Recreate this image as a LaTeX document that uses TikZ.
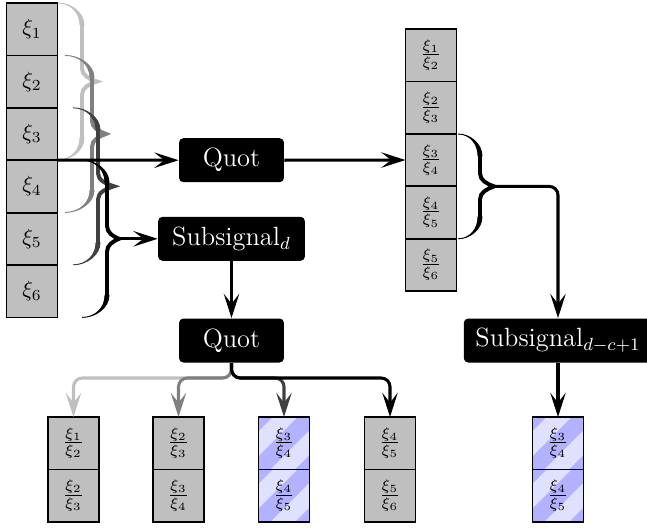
\documentclass[tikz,border=0pt]{standalone}
\usetikzlibrary{arrows.meta}

% curly brace opening to the right, with tapered ends:
% #1 colour, #2 x of the ends, #3 top y, #4 bottom y, #5 x of the stem, #6 x of the tip
\newcommand\tapbrace[6]{%
  \pgfmathsetmacro\tbm{(#3+#4)/2}%
  \pgfmathsetmacro\tba{#3+22}%
  \pgfmathsetmacro\tbd{#4-22}%
  \pgfmathsetmacro\tbb{\tbm-13}%
  \pgfmathsetmacro\tbc{\tbm+13}%
  \pgfmathsetmacro\tbu{\tbm-6}%
  \pgfmathsetmacro\tbl{\tbm+6}%
  \pgfmathsetmacro\tvl{#5-2}%
  \pgfmathsetmacro\tvr{#5+2}%
  \pgfmathsetmacro\tcx{#2+0.55*(#5-#2)}%
  \pgfmathsetmacro\tta{#3+10}%
  \pgfmathsetmacro\ttd{#4-10}%
  \pgfmathsetmacro\tpx{#6-5}%
  \pgfmathsetmacro\tmx{(#5+\tpx)/2}%
  \pgfmathsetmacro\tmu{\tbm-2.5}%
  \pgfmathsetmacro\tml{\tbm+2.5}%
  % tapered ends
  \filldraw[#1, line width=0.4pt]
    (#2,#3) .. controls (\tcx,#3) and (\tvr,\tta) .. (\tvr,\tba)
    -- (\tvl,\tba) .. controls (\tvl,\tta) and (\tcx,#3) .. (#2,#3) -- cycle;
  \filldraw[#1, line width=0.4pt]
    (#2,#4) .. controls (\tcx,#4) and (\tvr,\ttd) .. (\tvr,\tbd)
    -- (\tvl,\tbd) .. controls (\tvl,\ttd) and (\tcx,#4) .. (#2,#4) -- cycle;
  % stem and pointed middle
  \draw[#1, line width=1.8pt, miter limit=10]
    (#5,\tba) -- (#5,\tbb) .. controls (#5,\tbu) and (\tmx,\tmu) .. (\tpx,\tbm)
    .. controls (\tmx,\tml) and (#5,\tbl) .. (#5,\tbc) -- (#5,\tbd);
}

\tikzset{
  cell/.style={draw=black, line width=0.8pt, fill=black!25,
    minimum width=23.2pt, minimum height=23.8pt, inner sep=0pt, outer sep=0pt},
  hatched/.style={cell, fill=blue!12, path picture={
      \foreach \k in {-1,0,1}
        \draw[blue!30, line width=8pt]
          ([xshift=\k*22.7pt-16pt, yshift=-16pt]path picture bounding box.center)
          -- ++(32pt,32pt);}},
  op/.style={fill=black, text=white, rounded corners=2pt, minimum height=20pt,
    inner xsep=6.4pt, inner ysep=2pt, font=\large},
  arr/.style={line width=1.4pt, -{Stealth[length=11pt,width=7pt,inset=4.5pt]}},
  fork/.style={arr, rounded corners=4pt},
}

\begin{document}
\begin{tikzpicture}[x=0.4545pt, y=-0.4545pt]
\useasboundingbox (0,0) rectangle (647,527);

% signal samples
\foreach \i/\yy in {1/29.2, 2/81.6, 3/134, 4/186.4, 5/238.8, 6/291.2}
  \node[cell] (L\i) at (32,\yy) {$\xi_{\i}$};

% overlapping windows of three samples
\tapbrace{black!25}{58}{3}{160}{82}{102}
\tapbrace{black!50}{65}{55.4}{212.4}{92}{111}
\tapbrace{black!75}{73}{107.8}{264.8}{98}{119}
\tapbrace{black}{82}{160.2}{317.4}{107}{124}
\coordinate (btip) at (119,238.8);

% operators
\node[op, minimum width=47.7pt] (Q1) at (231.5,160.2) {Quot};
\node[op] (S1) at (231.5,238.8) {Subsignal$_d$};
\node[op, minimum width=47.7pt] (Q2) at (231.5,340.5) {Quot};
\node[op, inner xsep=5.3pt] (S2) at (558,340.5) {Subsignal$_{d-c+1}$};

% quotient signal
\foreach \i/\yy in {1/55.2, 2/107.6, 3/160, 4/212.4, 5/264.8} {
  \pgfmathtruncatemacro\j{\i+1}
  \node[cell] (R\i) at (431,\yy) {$\frac{\xi_{\i}}{\xi_{\j}}$};
}
\tapbrace{black}{458}{134}{238.8}{480}{499}
\coordinate (rtip) at (494,186.4);

% quotients of the subsignal
\foreach \b/\xx/\i/\sty in {1/73.5/1/cell, 2/178.5/2/cell, 3/284/3/hatched, 4/390/4/cell, 5/558/3/hatched} {
  \pgfmathtruncatemacro\j{\i+1}
  \pgfmathtruncatemacro\k{\i+2}
  \node[\sty] (B\b a) at (\xx,443.2) {$\frac{\xi_{\i}}{\xi_{\j}}$};
  \node[\sty] (B\b b) at (\xx,495.6) {$\frac{\xi_{\j}}{\xi_{\k}}$};
}

% connectors
\draw[arr] (L3.south east) -- (Q1.west);
\draw[arr] (Q1.east) -- (R3.west);
\draw[arr] (btip) -- (S1.west);
\draw[arr] (S1.south) -- (Q2.north);
\draw[fork] (rtip) -| (S2.north);
\draw[arr] (S2.south) -- (B5a.north);

\coordinate (split) at (231.5,378);
\draw[fork, black!25] (Q2.south) -- (split) -| (B1a.north);
\draw[fork, black!50] (Q2.south) -- (split) -| (B2a.north);
\draw[fork, black!75] (Q2.south) -- (split) -| (B3a.north);
\draw[fork, black]    (Q2.south) -- (split) -| (B4a.north);
\end{tikzpicture}
\end{document}
